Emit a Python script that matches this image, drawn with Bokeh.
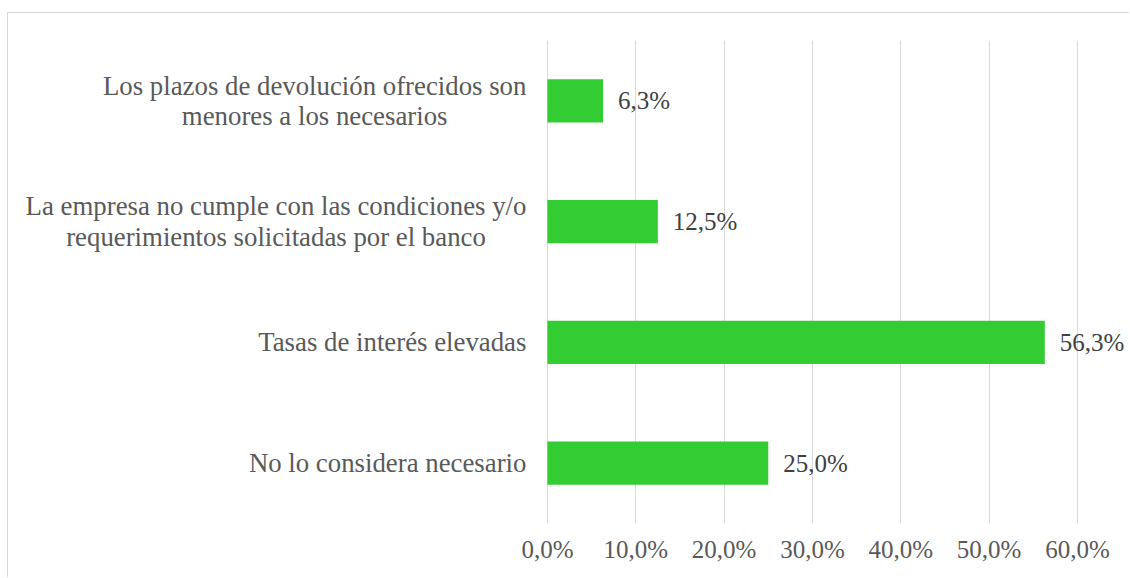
from bokeh.plotting import figure
from bokeh.models import FactorRange, Range1d, FixedTicker, CustomJSTickFormatter, ColumnDataSource
from bokeh.core.properties import value
from bokeh.embed import file_html
from bokeh.resources import INLINE

categories = [
    "No lo considera necesario",
    "Tasas de interés elevadas",
    "La empresa no cumple con las condiciones y/o\nrequerimientos solicitadas por el banco",
    "Los plazos de devolución ofrecidos son\nmenores a los necesarios",
]
values = [25.0, 56.3, 12.5, 6.3]
ticks = [0, 10, 20, 30, 40, 50, 60]

labels = [("%.1f" % v).replace(".", ",") + "%" for v in values]
src = ColumnDataSource(dict(cat=categories, val=values, lab=labels, zero=[0] * len(values)))

FONT = "Liberation Serif"

p = figure(
    width=1122, height=565,
    y_range=FactorRange(factors=categories, range_padding=0),
    x_range=Range1d(-61.0, 66.0),
    output_backend="svg", toolbar_location=None,
    min_border_left=0, min_border_right=0, min_border_top=27, min_border_bottom=55,
)
p.margin = (12, 0, 0, 7)
p.styles = {"border-top": "1px solid #d9d9d9", "border-left": "1px solid #d9d9d9"}

p.hbar(y="cat", right="val", left=0, height=0.36, source=src,
       fill_color="#33CC33", line_color=None)

p.text(x="val", y="cat", text="lab", source=src, x_offset=15,
       text_align="left", text_baseline="middle",
       text_font=value(FONT), text_font_size="25px", text_color="#404040")

# category labels: block right-aligned next to the axis, lines centred
p.text(x="zero", y="cat", text="cat", source=src, x_offset=-21,
       anchor="center_right", text_align="center", text_baseline="middle",
       text_line_height=1.02,
       text_font=value(FONT), text_font_size="26.8px", text_color="#595959")

p.outline_line_color = None
p.ygrid.grid_line_color = None
p.xgrid.grid_line_color = "#d9d9d9"
p.xgrid.grid_line_width = 1
p.xaxis.ticker = FixedTicker(ticks=ticks)
p.xaxis.formatter = CustomJSTickFormatter(code="return tick.toFixed(1).replace('.', ',') + '%';")
p.yaxis.visible = False

ax = p.xaxis[0]
ax.axis_line_color = None
ax.major_tick_line_color = None
ax.minor_tick_line_color = None
ax.major_label_text_font = FONT
ax.major_label_text_color = "#595959"
ax.major_label_text_font_size = "25px"
ax.major_label_standoff = 6

open("out.html", "w").write(file_html(p, INLINE))
